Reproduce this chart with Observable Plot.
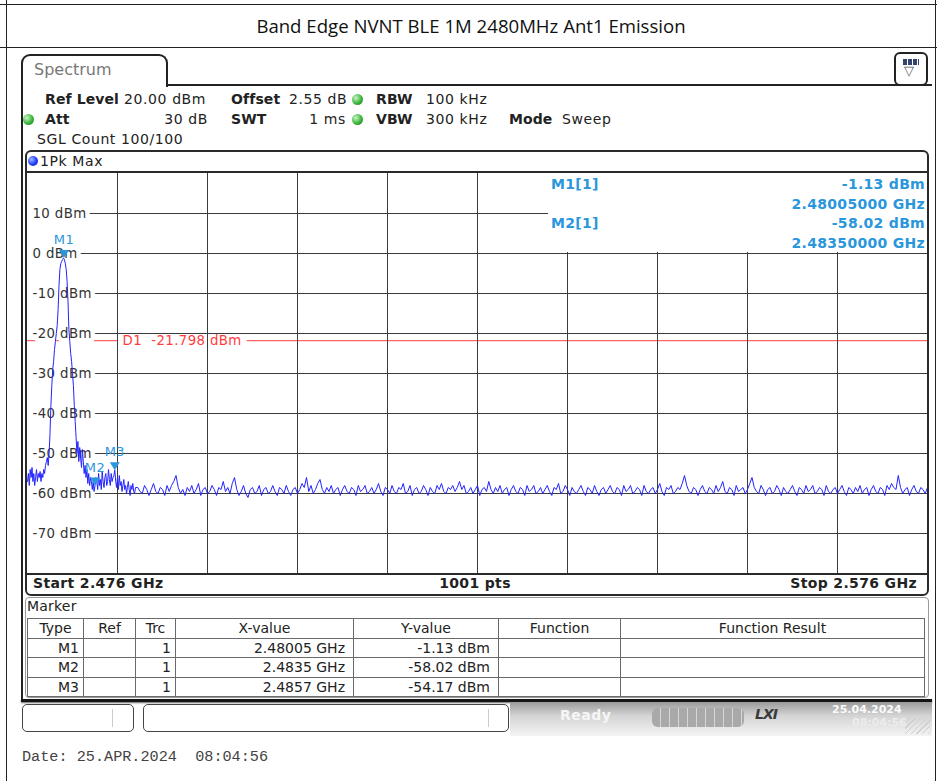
<!DOCTYPE html>
<html><head><meta charset="utf-8">
<script src="https://cdn.jsdelivr.net/npm/d3@7"></script>
<script src="https://cdn.jsdelivr.net/npm/@observablehq/plot@0.6"></script>
<style>
body{margin:0;background:#fff;}
#page{position:relative;width:937px;height:781px;overflow:hidden;font-family:"DejaVu Sans",sans-serif;color:#222;background:#fff;}
.a{position:absolute;white-space:pre;}
.b{font-weight:bold;}
.t{position:absolute;white-space:pre;font-size:14px;letter-spacing:0.6px;line-height:18px;height:18px;}
.t.b{font-weight:bold;letter-spacing:0.1px;}
.gdot{position:absolute;width:11px;height:11px;border-radius:50%;background:radial-gradient(circle at 35% 35%,#c8f5c8 0,#3cb43c 55%,#1d7d1d 100%);}
.mk{position:absolute;white-space:pre;font-size:14px;letter-spacing:0.3px;font-weight:bold;color:#2a96dc;line-height:18px;}
.sb{position:absolute;white-space:pre;font-size:14px;letter-spacing:0.35px;font-weight:bold;line-height:18px;}
table.mt{position:absolute;border-collapse:collapse;font-size:14px;color:#222;table-layout:fixed;}
table.mt td{border:1px solid #6a6a6a;height:18.5px;padding:0 4px;line-height:18px;overflow:hidden;white-space:nowrap;}
table.mt tr.h td{text-align:center;}
table.mt td.r{text-align:right;}
table.mt td.rr{text-align:right;padding-right:8px;}
#chart svg text{letter-spacing:0.4px;}
</style></head>
<body><div id="page">
  <!-- document table borders -->
  <div class="a" style="left:0;top:4px;width:937px;height:1px;background:#222"></div>
  <div class="a" style="left:0;top:47px;width:937px;height:1px;background:#222"></div>
  <div class="a" style="left:6px;top:0;width:1px;height:781px;background:#222"></div>
  <div class="a" style="left:935px;top:0;width:1px;height:781px;background:#222"></div>
  <div id="title" class="a" style="left:7px;width:928px;top:13px;text-align:center;font-family:'Open Sans',sans-serif;font-size:18.6px;color:#111;"></div>

  <!-- instrument frame -->
  <div class="a" style="left:21px;top:54px;width:143px;height:31px;border:2px solid #222;border-bottom:none;border-radius:9px 9px 0 0;background:#fff"></div>
  <div class="a" style="left:34px;top:60px;font-size:16px;color:#777">Spectrum</div>
  <div class="a" style="left:166px;top:84px;width:766px;height:2px;background:#222"></div>
  <div class="a" style="left:21px;top:80px;width:2px;height:622px;background:#222"></div>
  <div class="a" style="left:894px;top:52px;width:30px;height:30px;border:2px solid #222;border-radius:6px;background:#fff">
    <div class="a" style="left:7px;top:5px;width:16px;height:6px;background:repeating-linear-gradient(to right,#34446a 0 4px,#fff 4px 5px);"></div>
    <div class="a" style="left:8px;top:9px;font-size:13px;color:#555;line-height:16px">▽</div>
  </div>

  <!-- settings -->
  <div class="t b" style="left:45px;top:90px">Ref Level</div>
  <div class="t" style="left:124px;top:90px">20.00 dBm</div>
  <div class="t b" style="left:231px;top:90px">Offset</div>
  <div class="t" style="left:289px;top:90px">2.55 dB</div>
  <div class="gdot" style="left:352px;top:94px"></div>
  <div class="t b" style="left:376px;top:90px">RBW</div>
  <div class="t" style="left:426px;top:90px">100 kHz</div>

  <div class="gdot" style="left:23px;top:114px"></div>
  <div class="t b" style="left:45px;top:110px">Att</div>
  <div class="t" style="left:128px;width:80px;text-align:right;top:110px">30 dB</div>
  <div class="t b" style="left:231px;top:110px">SWT</div>
  <div class="t" style="left:266px;width:80px;text-align:right;top:110px">1 ms</div>
  <div class="gdot" style="left:352px;top:114px"></div>
  <div class="t b" style="left:376px;top:110px">VBW</div>
  <div class="t" style="left:426px;top:110px">300 kHz</div>
  <div class="t b" style="left:509px;top:110px">Mode</div>
  <div class="t" style="left:562px;top:110px">Sweep</div>
  <div class="t" style="left:37px;top:130px">SGL Count 100/100</div>

  <!-- diagram box -->
  <div class="a" style="left:25px;top:150px;width:900px;height:442px;border:2px solid #2a2a2a;border-radius:6px;background:#fff"></div>
  <div class="a" style="left:28px;top:156px;width:10px;height:10px;border-radius:50%;background:radial-gradient(circle at 35% 35%,#9fb8ff 0,#1f3cff 55%,#0a1a9a 100%)"></div>
  <div class="t" style="left:40px;top:152px">1Pk Max</div>
  <div class="a" style="left:27px;top:171px;width:900px;height:2px;background:#2a2a2a"></div>
  <div id="chart" class="a" style="left:27px;top:173px;width:900px;height:400px"></div>
  <div class="a" style="left:27px;top:573px;width:900px;height:2px;background:#2a2a2a"></div>
  <div id="minfo" class="a" style="left:548px;top:173px;width:379px;height:79px;background:#fff"></div>
  <div class="sb" style="left:33px;top:574px">Start 2.476 GHz</div>
  <div class="sb" style="left:375px;width:200px;text-align:center;top:574px">1001 pts</div>
  <div class="sb" style="left:717px;width:200px;text-align:right;top:574px">Stop 2.576 GHz</div>

  <!-- marker table -->
  <div class="a" style="left:25px;top:597px;width:902px;height:99px;border:1px solid #9a9a9a;border-radius:4px;background:#fff"></div>
  <div class="t" style="left:27px;top:597px;letter-spacing:0.2px">Marker</div>
  <table class="mt" id="mtable" style="left:27px;top:618px;width:897px"></table>
  <div class="a" style="left:21px;top:699px;width:911px;height:3px;background:#151515;box-shadow:0 1px 2px #666"></div>

  <!-- status bar -->
  <div class="a" style="left:22px;top:704px;width:110px;height:26px;border:1px solid #444;border-radius:5px;background:#fff"><div class="a" style="left:89px;top:4px;width:1px;height:18px;background:#ccc"></div></div>
  <div class="a" style="left:143px;top:704px;width:364px;height:26px;border:1px solid #444;border-radius:5px;background:#fff"><div class="a" style="left:344px;top:4px;width:1px;height:18px;background:#ccc"></div></div>
  <div class="a" style="left:510px;top:702px;width:422px;height:34px;background:linear-gradient(#9a9a9a,#d4d4d4 40%,#f4f4f4 100%)"></div>
  <div class="a b" style="left:560px;top:707px;font-size:14px;letter-spacing:0.5px;color:#f6f6f6">Ready</div>
  <div class="a" style="left:652px;top:708px;width:92px;height:19px;border-radius:6px;background:repeating-linear-gradient(to right,#a9a9a9 0 8px,#d6d6d6 8px 9px)"></div>
  <div class="a b" style="left:755px;top:706px;font-size:14px;font-style:italic;color:#3a3a3a;letter-spacing:-1px">LXI</div>
  <div class="a b" style="left:832px;top:703px;font-size:11px;color:#fafafa">25.04.2024</div>
  <div class="a b" style="left:852px;top:716px;font-size:11px;color:#ececec">08:04:56</div>
  <div class="a" style="left:905px;top:718px;width:25px;height:16px;background:repeating-linear-gradient(135deg,transparent 0 3px,#cfcfcf 3px 4px)"></div>

  <div id="date" class="a" style="left:22px;top:748px;font-family:'Liberation Mono',monospace;font-size:15.2px;color:#444"></div>
</div>
<script>
// ---------- data ----------
const titleText = "Band Edge NVNT BLE 1M 2480MHz Ant1 Emission";
const dateText = "Date: 25.APR.2024  08:04:56";
const startGHz = 2.476;
const stopGHz = 2.576;
const splitGHz = 2.488;
const refLevel = 20;
const bottomLevel = -80;
const xGrid = [2.486, 2.496, 2.506, 2.516, 2.526, 2.536, 2.546, 2.556, 2.566];
const yGrid = [10, 0, -10, -20, -30, -40, -50, -60, -70];
const yTickLabels = ["10 dBm", "0 dBm", "-10 dBm", "-20 dBm", "-30 dBm", "-40 dBm", "-50 dBm", "-60 dBm", "-70 dBm"];
const displayLine = -21.798;
const displayLabel = "D1  -21.798 dBm";
// trace, 0.1 MHz steps from 2.476 GHz to 2.488 GHz (peak region)
const traceA = [
  -57,-55,-58,-54,-56,-53.5,-57,-55,-58,-56,-54,-57,-55,-56,-54.5,-57,-55,-56,-54,-55,-53,
  -52,-51,-53,-50,
  -45,-38,-33,-29,
  -27,-24,-22,-20,-18,
  -14,-8,-4,
  -2.5,-2,-1.5,-1.13,
  -1.5,-2.5,-4,-7,
  -12,-19,-22,-25,
  -27,-30,-33,-38,
  -42,-46,-50,-47,
  -52,-48.5,-51,-53.5,-49,-52,
  -55,-53,-56,-54,-57.5,-55,-58,-56,
  -57,-59,-57,-59.5,-58.02,-56,
  -57,-59,-55,-58,-56.5,-59,-54.5,-57,-58.5,-56,-55,-58,-57,-54,-56.5,-58,-55,-57,-56,-55.5,-54.17,
  -57,-58.5,-56,-59,-55.5,-58,-57,-59.5,-58,-56.5,-59,-58,-60,-58.5,-57,-59,-60.5,-58,-59,-57.5,-59.5,-60,-58.5
];
// trace, coarser samples from 2.488 GHz to 2.576 GHz (noise floor)
const traceB = [
  -58.5,-59.5,-60,-58,-59,-60.5,-59,-57.5,-59.5,-60,-58.5,-59,-60.5,-58,-59.5,-58,-57,-55.5,-58.5,-60,
  -59,-60.5,-58.5,-59.5,-58,-60,-59,-57.5,-60.5,-59,-58.5,-60,-59.5,-58,-59,-60.5,-58.5,-59,-57,-59.5,
  -58.5,-60,-57.5,-56,-59,-60.5,-59.5,-58,-60,-61,-59,-58.5,-60,-59.5,-58,-60.5,-59,-58.5,-60,-59.5,
  -58,-59.5,-60.5,-58.5,-59,-60,-58,-59.5,-60.5,-59,-58.5,-60,-59,-57.5,-58.5,-56,-59.5,-58,-60,-59,
  -57.5,-56.5,-59,-60,-58.5,-59.5,-58,-60,-59,-58.5,-60.5,-59,-58,-59.5,-60,-58.5,-59,-60.5,-58,-59.5,
  -59,-58,-60,-59.5,-58.5,-60,-59,-57.5,-59.5,-60.5,-58.5,-59,-60,-58,-59.5,-60,-58.5,-59,-57.5,-60,
  -59.5,-58,-60.5,-59,-58.5,-60,-59.5,-58,-59,-60.5,-58.5,-59.5,-60,-58,-59,-57.5,-59.5,-60,-58.5,-59,
  -58,-59.5,-58.5,-57,-59,-58,-60,-59.5,-58.5,-60,-59,-58,-60.5,-59,-58.5,-59.5,-57,-59,-60,-58.5,
  -59.5,-58,-60,-59,-58.5,-60.5,-59,-58,-59.5,-60,-58.5,-59,-60.5,-58,-59.5,-59,-58,-60,-59.5,-58.5,
  -60,-59,-58,-59.5,-60.5,-58.5,-59,-57.5,-60,-59.5,-58,-59,-60.5,-58.5,-59.5,-60,-59,-58,-59.5,-60.5,
  -58.5,-59,-60,-58,-59.5,-60.5,-59,-58.5,-60,-59,-58,-59.5,-60,-58.5,-59,-60.5,-58,-59.5,-59,-58,
  -60,-59.5,-58.5,-59,-60.5,-58,-59.5,-60,-59,-58.5,-60,-59,-57.5,-59.5,-60.5,-58.5,-59,-58,-60,-59.5,
  -58.5,-59,-57.5,-55.5,-58,-59.5,-60,-58.5,-59,-60.5,-59,-58,-59.5,-60,-58.5,-59,-60,-58,-59.5,-58.5,
  -57,-59.5,-60,-58.5,-59,-60.5,-58,-59.5,-59,-58.5,-60,-59,-57.5,-56,-58.5,-59.5,-60,-58,-59,-60.5,
  -59,-58.5,-60,-59.5,-58,-59,-60.5,-58.5,-59.5,-60,-59,-58,-59.5,-60.5,-58.5,-59,-60,-58,-59.5,-59,
  -58,-60,-59.5,-58.5,-59,-60.5,-58,-59.5,-60,-59,-58.5,-60,-59,-58,-59.5,-60.5,-58.5,-59,-60,-58.5,
  -59.5,-58,-60,-59,-58.5,-60.5,-59,-58,-59.5,-60,-58.5,-59,-60.5,-58,-59,-57.5,-58.5,-59,-55.5,-58.5,
  -60,-59,-58.5,-60.5,-59,-58,-59.5,-60,-58.5,-59,-60,-58.5
];
const markerNames = ["M1", "M2", "M3"];
const markerFreqs = [2.48005, 2.4835, 2.4857];
const markerLevels = [-1.13, -58.02, -54.17];
const markerFreqText = ["2.48005 GHz", "2.4835 GHz", "2.4857 GHz"];
const markerLevelText = ["-1.13 dBm", "-58.02 dBm", "-54.17 dBm"];
const markerTrace = ["1", "1", "1"];
const infoLines = [
  ["M1[1]", "-1.13 dBm"],
  ["", "2.48005000 GHz"],
  ["M2[1]", "-58.02 dBm"],
  ["", "2.48350000 GHz"]
];
const tableHeader = ["Type", "Ref", "Trc", "X-value", "Y-value", "Function", "Function Result"];

// ---------- build ----------
document.getElementById("title").textContent = titleText;
document.getElementById("date").textContent = dateText;

const stepA = 0.0001;
const stepB = (stopGHz - splitGHz) / traceB.length;
const trace = [];
traceA.forEach((v, i) => trace.push({f: startGHz + i * stepA, dB: v}));
traceB.forEach((v, j) => trace.push({f: splitGHz + (j + 1) * stepB, dB: v}));

const markers = markerNames.map((n, i) => ({name: n, f: markerFreqs[i], dB: markerLevels[i]}));

const downTriangle = {
  draw(ctx, size) {
    const r = Math.sqrt(size / Math.PI);
    ctx.moveTo(0, 0);
    ctx.lineTo(-1.25 * r, -2 * r);
    ctx.lineTo(1.25 * r, -2 * r);
    ctx.closePath();
  }
};

const font = "DejaVu Sans";
const gridColor = "#3c3c3c";
const markerColor = "#2a96dc";
const chart = Plot.plot({
  width: 900,
  height: 400,
  marginLeft: 0, marginRight: 0, marginTop: 0, marginBottom: 0,
  x: {domain: [startGHz, stopGHz], axis: null},
  y: {domain: [bottomLevel, refLevel], axis: null},
  style: {background: "white", fontFamily: font, overflow: "visible"},
  marks: [
    Plot.ruleY([displayLine], {stroke: "#ff3c3c", strokeWidth: 1}),
    Plot.text([displayLabel], {x: xGrid[0], y: displayLine, text: d => d, textAnchor: "start", dx: 5,
      fill: "#ff3c3c", stroke: "white", strokeWidth: 13, strokeLinejoin: "round", paintOrder: "stroke", fontSize: 13.3}),
    Plot.ruleX(xGrid, {stroke: gridColor, strokeWidth: 1}),
    Plot.ruleY(yGrid, {stroke: gridColor, strokeWidth: 1, insetLeft: 6}),
    Plot.text(yGrid, {x: startGHz, y: d => d, text: (d, i) => yTickLabels[i], textAnchor: "start", dx: 5,
      fill: "#333", stroke: "white", strokeWidth: 9, strokeLinejoin: "round", paintOrder: "stroke", fontSize: 13.3}),
    Plot.line(trace, {x: "f", y: "dB", stroke: "#2323ff", strokeWidth: 1, clip: true}),
    Plot.dot(markers, {x: "f", y: "dB", symbol: downTriangle, r: 4, fill: markerColor, stroke: "none"}),
    Plot.text(markers, {x: "f", y: "dB", text: "name", dy: -18, fill: markerColor, fontSize: 13})
  ]
});
document.getElementById("chart").appendChild(chart);

// marker info box
const minfo = document.getElementById("minfo");
infoLines.forEach((ln, i) => {
  const top = 2 + i * 19.5;
  if (ln[0]) {
    const l = document.createElement("div");
    l.className = "mk"; l.style.left = "3px"; l.style.top = top + "px"; l.textContent = ln[0];
    minfo.appendChild(l);
  }
  const r = document.createElement("div");
  r.className = "mk"; r.style.right = "2px"; r.style.top = top + "px"; r.textContent = ln[1];
  minfo.appendChild(r);
});

// marker table
const tbl = document.getElementById("mtable");
const widths = [56, 52, 40, 178, 145, 122, 304];
let html = "<colgroup>" + widths.map(w => `<col style="width:${w}px">`).join("") + "</colgroup>";
html += '<tr class="h">' + tableHeader.map(h => `<td>${h}</td>`).join("") + "</tr>";
markerNames.forEach((n, i) => {
  html += `<tr><td class="r">${n}</td><td></td><td class="r">${markerTrace[i]}</td><td class="rr">${markerFreqText[i]}</td><td class="rr">${markerLevelText[i]}</td><td></td><td></td></tr>`;
});
tbl.innerHTML = html;
</script>
</body></html>
